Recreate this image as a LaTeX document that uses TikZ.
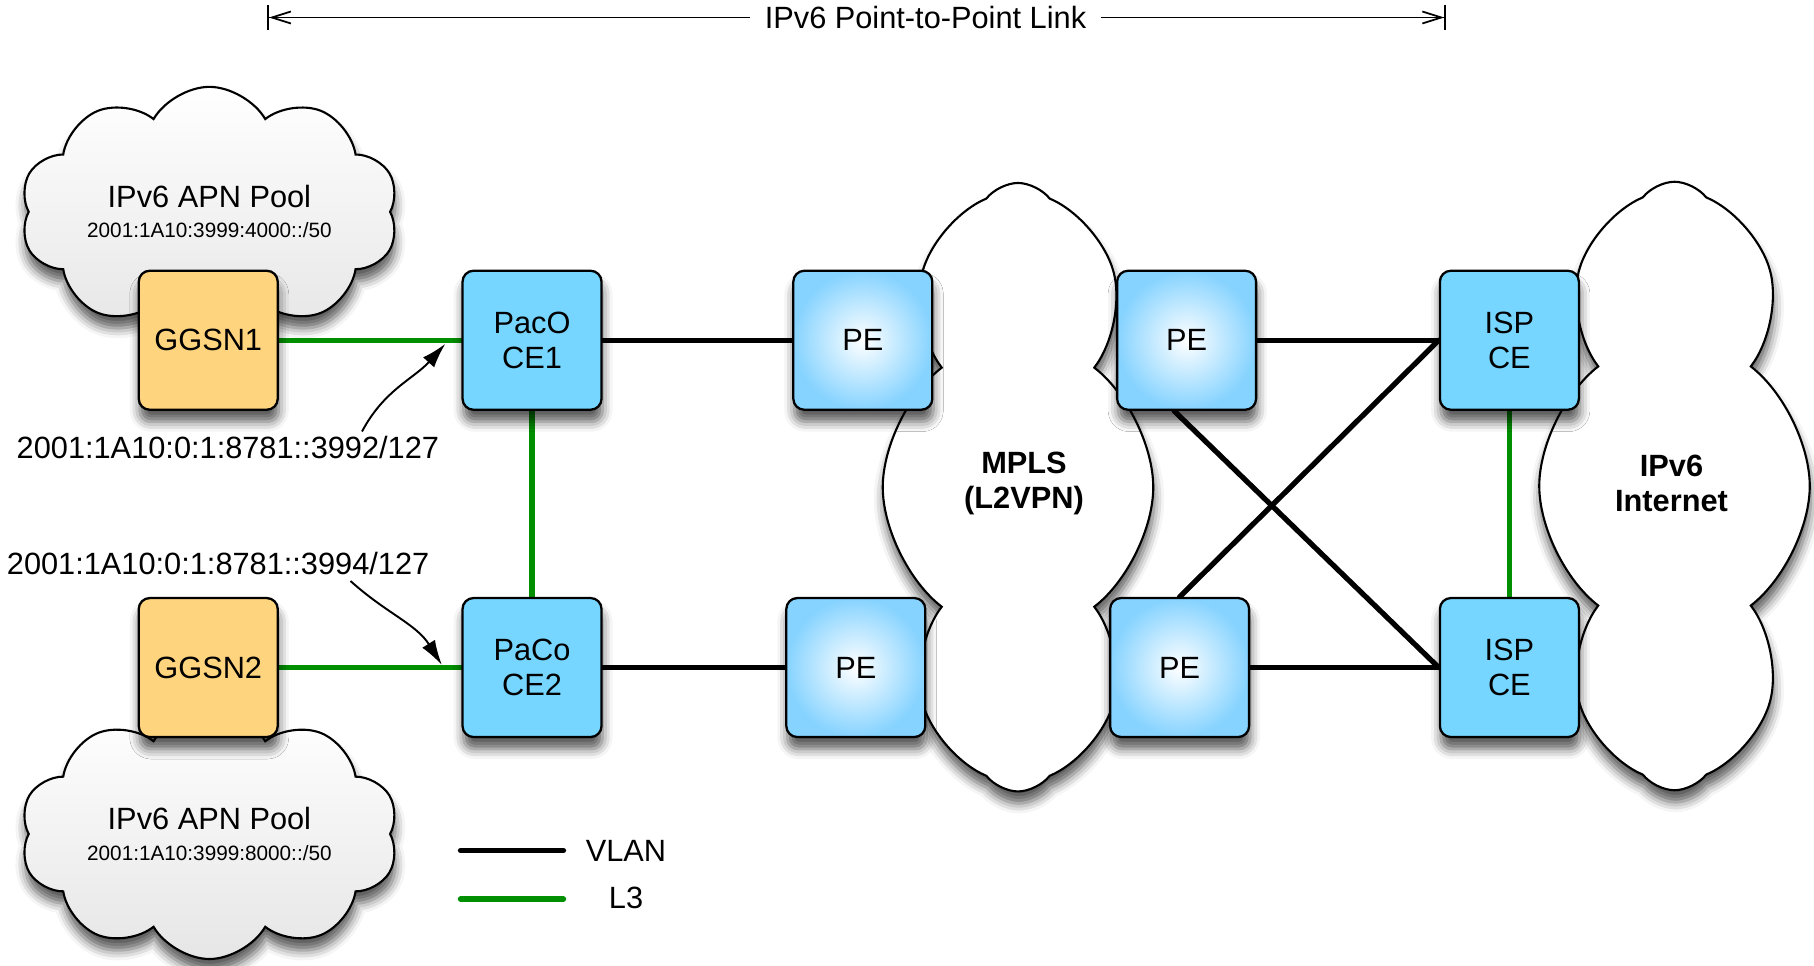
\documentclass[tikz,border=0pt]{standalone}
\usepackage{fontspec}
\setmainfont{Liberation Sans}
\usetikzlibrary{arrows.meta, positioning, calc, shapes.symbols, shadows.blur, backgrounds}
\definecolor{ggsnorange}{HTML}{FFD47E}
\definecolor{ceblue}{HTML}{76D6FF}
\definecolor{peblue}{HTML}{86D3FF}
\definecolor{poolgray}{HTML}{E6E6E6}
\definecolor{lthreegreen}{HTML}{008F00}

\begin{document}
\begin{tikzpicture}[
    font=\fontsize{17.5}{20}\selectfont,
    softshadow/.style={blur shadow={shadow xshift=0.02cm, shadow yshift=-0.24cm,
        shadow blur radius=0.2cm, shadow opacity=65}},
    box/.style={draw, line width=1.3pt, rounded corners=0.22cm,
      minimum width=2.78cm, minimum height=2.78cm, align=center, softshadow},
    ggsn/.style={box, fill=ggsnorange},
    cebox/.style={box, fill=ceblue},
    pebox/.style={box, inner color=white, outer color=peblue},
    netcloud/.style={cloud, draw, line width=1.2pt, cloud ignores aspect,
      cloud puffs=8, cloud puff arc=105, shape border rotate=10,
      inner sep=0pt, fill=white, softshadow,
      minimum width=5.41cm, minimum height=12.17cm},
    poolcloud/.style={cloud, draw, line width=1.2pt, cloud ignores aspect,
      cloud puffs=10, cloud puff arc=120, inner sep=0pt, align=center,
      top color=white, bottom color=poolgray, softshadow,
      minimum width=7.57cm, minimum height=5.0cm},
    cloudtext/.style={font=\fontsize{17.5}{20}\selectfont\bfseries, align=center},
    vlan/.style={line width=3pt, line cap=round},
    lthree/.style={line width=3pt, draw=lthreegreen, line cap=round},
    note/.style={-{Latex[length=0.5cm, width=0.3cm]}, line width=1.1pt},
    dimline/.style={line width=1pt},
    >=Latex
  ]
  \useasboundingbox (0,0) rectangle (36.28,19.30);

  % devices
  \node[ggsn] (ggsn1) at (4.165,12.495) {GGSN1};
  \node[cebox, right=3.65cm of ggsn1] (ce1) {PacO\\CE1};
  \node[pebox, right=3.79cm of ce1] (petl) {PE};
  \node[pebox, right=3.65cm of petl] (petr) {PE};
  \node[cebox, right=3.63cm of petr] (ispt) {ISP\\CE};
  \node[ggsn, below=3.72cm of ggsn1] (ggsn2) {GGSN2};
  \node[cebox, below=3.72cm of ce1] (ce2) {PaCo\\CE2};
  \node[pebox, right=3.65cm of ce2] (pebl) {PE};
  \node[pebox, right=3.65cm of pebl] (pebr) {PE};
  \node[cebox, below=3.72cm of ispt] (ispb) {ISP\\CE};

  % clouds behind everything
  \begin{scope}[on background layer]
    \node[poolcloud] (pool1) at (4.188,15.063) {IPv6 APN Pool\\[-0.1cm]
      {\fontsize{11.8}{16}\selectfont 2001:1A10:3999:4000::/50}};
    \node[poolcloud] (pool2) at (4.188,2.62) {IPv6 APN Pool\\[-0.1cm]
      {\fontsize{11.8}{16}\selectfont 2001:1A10:3999:8000::/50}};
    \node[netcloud] (mpls) at (20.36,9.556) {};
    \node[netcloud] (inet) at (33.49,9.58) {};
  \end{scope}
  \node[cloudtext] (mplstext) at (20.48,9.625) {MPLS\\(L2VPN)};
  \node[cloudtext] (inettext) at (33.43,9.625) {IPv6\\Internet};

  % links
  \begin{scope}[on background layer]
    \draw[lthree] (ggsn1) -- (ce1);
    \draw[lthree] (ggsn2) -- (ce2);
    \draw[lthree] (ce1) -- (ce2);
    \draw[vlan] (ce1) -- (petl);
    \draw[vlan] (ce2) -- (pebl);
    \draw[vlan] (petr) -- (ispt);
    \draw[vlan] (pebr) -- (ispb);
    \draw[vlan] ($(petr.south)+(-0.25,0)$) -- (ispb.west);
    \draw[vlan] (pebr.north) -- (ispt.west);
    \draw[lthree] (ispt) -- (ispb);
  \end{scope}

  % point-to-point span
  \coordinate (spanl) at (5.345,18.95);
  \coordinate (spanr) at (28.92,18.95);
  \node[inner xsep=0.28cm] (span) at (18.51,18.95) {IPv6 Point-to-Point Link};
  \draw[dimline, {Bar[width=0.5cm]Straight Barb[length=0.38cm,width=0.24cm]}-]
    (spanl) -- (span.west);
  \draw[dimline, -{Straight Barb[length=0.38cm,width=0.24cm]Bar[width=0.5cm]}]
    (span.east) -- (spanr);

  % addresses
  \node (addr1) at (4.558,10.343) {2001:1A10:0:1:8781::3992/127};
  \node (addr2) at (4.362,8.029) {2001:1A10:0:1:8781::3994/127};
  \coordinate (from1) at (7.24,10.67);
  \coordinate (from2) at (7.01,7.68);
  \coordinate (tip1) at ($(ce1.west)+(-0.32,-0.07)$);
  \coordinate (tip2) at ($(ce2.west)+(-0.39,0.05)$);
  \draw[note] (from1) to[out=62, in=228] (tip1);
  \draw[note] (from2) to[out=-42, in=122] (tip2);

  % legend
  \node (vlankey) at (12.52,2.29) {VLAN};
  \node (lthreekey) at (12.52,1.34) {L3};
  \coordinate (vlana) at (9.21,2.29);
  \coordinate (vlanb) at (11.27,2.29);
  \coordinate (lthreea) at (9.21,1.32);
  \coordinate (lthreeb) at (11.27,1.32);
  \draw[vlan] (vlana) -- (vlanb);
  \draw[lthree] (lthreea) -- (lthreeb);
\end{tikzpicture}
\end{document}
